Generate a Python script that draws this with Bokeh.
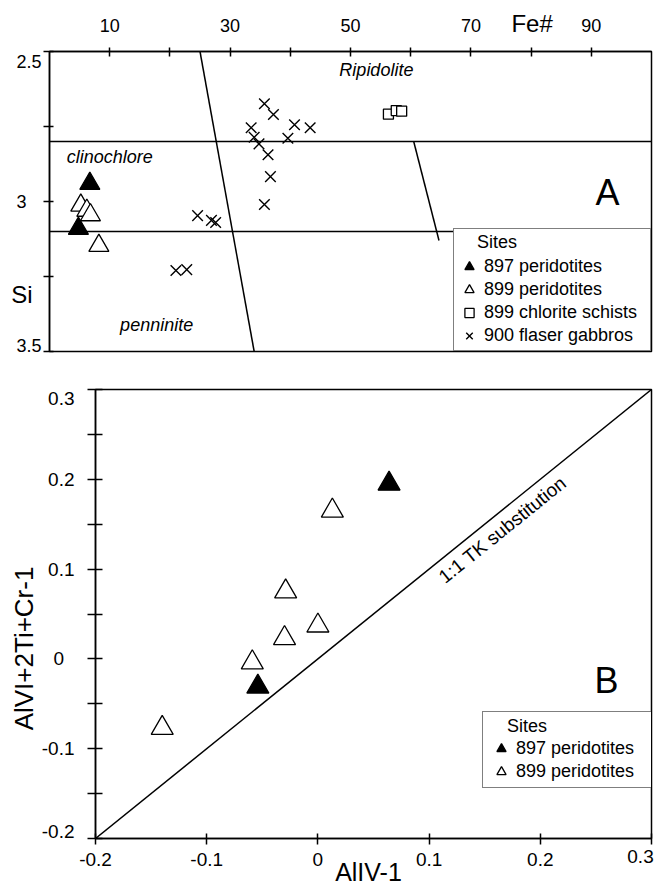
import math
from bokeh.plotting import figure
from bokeh.models import Range1d, FixedTicker, Label, Legend, LegendItem, LinearAxis
from bokeh.embed import file_html
from bokeh.resources import INLINE

FONT = "Liberation Sans"
NB = "\u00a0"

# ---------------- Panel A data (Fe# vs Si) ----------------
fe_897 = [6.7, 4.8]
si_897 = [2.94, 3.09]
fe_899 = [5.2, 6.2, 6.8, 8.2]
si_899 = [3.013, 3.03, 3.045, 3.147]
fe_schist = [56.3, 57.6, 58.5]
si_schist = [2.709, 2.697, 2.699]
fe_gabbro = [35.7, 37.2, 40.7, 43.3, 33.5, 34.0, 39.6, 34.8, 36.3, 36.7,
             35.7, 24.6, 26.9, 27.6, 21.0, 22.8]
si_gabbro = [2.674, 2.71, 2.744, 2.754, 2.754, 2.786, 2.789, 2.808, 2.844, 2.917,
             3.01, 3.047, 3.063, 3.07, 3.23, 3.227]

# field boundaries
h1_x = [0, 100]
h1_y = [2.8, 2.8]
h2_x = [0, 100]
h2_y = [3.1, 3.1]
s1_x = [25, 34]
s1_y = [2.5, 3.5]
s2_x = [60.5, 64.7]
s2_y = [2.8, 3.13]

fe_ticks = [10, 20, 30, 40, 50, 60, 70, 80, 90]
fe_tick_labels = ["10", "", "30", "", "50", "", "70", "", "90"]
si_ticks = [2.5, 2.75, 3.0, 3.25, 3.5]
si_label_pos = [2.5357, 3.0, 3.48]
si_tick_labels = ["2.5", "3" + NB * 3, "3.5"]

# ---------------- Panel B data (AlIV-1 vs AlVI+2Ti+Cr-1) ----------------
aliv_897 = [0.064, -0.054]
alvi_897 = [0.195, -0.031]
aliv_899 = [0.013, -0.029, 0.0, -0.030, -0.059, -0.140]
alvi_899 = [0.165, 0.075, 0.037, 0.023, -0.004, -0.077]
one_to_one = [-0.2, 0.3]

b_ticks = [-0.2, -0.1, 0.0, 0.1, 0.2, 0.3]
b_minor = [-0.15, -0.05, 0.05, 0.15, 0.25]
b_x_tick_labels = ["-0.2", "-0.1", "0", "0.1", "0.2", ""]
b_x_end_pos = [0.2901]
b_x_end_label = ["0.3"]
b_y_label_pos = [0.290, 0.2, 0.1, 0.0, -0.1, -0.192]
b_y_tick_labels = ["0.3", "0.2", "0.1", "0" + NB * 2, "-0.1", "-0.2"]


def style_axis(ax, tin, tout, standoff, fsize):
    ax.axis_line_color = "black"
    ax.axis_line_width = 1.5
    ax.major_tick_line_color = "black"
    ax.major_tick_line_width = 1.5
    ax.major_tick_in = tin
    ax.major_tick_out = tout
    ax.minor_tick_line_color = "black"
    ax.minor_tick_line_width = 1.5
    ax.minor_tick_in = tin
    ax.minor_tick_out = tout
    ax.major_label_standoff = standoff
    ax.major_label_text_font = FONT
    ax.major_label_text_font_size = fsize
    ax.major_label_text_color = "black"


def text_axis(p, side, ticks, labels, fsize, standoff, orientation=None):
    ax = LinearAxis(ticker=FixedTicker(ticks=ticks, minor_ticks=[]))
    ax.major_label_overrides = dict(zip(ticks, labels))
    ax.axis_line_color = None
    ax.major_tick_line_color = None
    ax.minor_tick_line_color = None
    ax.major_tick_in = 0
    ax.major_tick_out = 0
    ax.minor_tick_in = 0
    ax.minor_tick_out = 0
    ax.major_label_standoff = standoff
    ax.major_label_text_font = FONT
    ax.major_label_text_font_size = fsize
    ax.major_label_text_color = "black"
    if orientation is not None:
        ax.major_label_orientation = orientation
    p.add_layout(ax, side)
    return ax


def style_fig(p):
    p.grid.visible = False
    p.outline_line_color = "black"
    p.outline_line_width = 1.5
    p.background_fill_color = "white"
    p.border_fill_color = "white"


# ================= Panel A =================
pa = figure(width=654, height=366, x_range=Range1d(0, 100), y_range=Range1d(3.5, 2.5),
            x_axis_location="above", output_backend="svg", toolbar_location=None,
            min_border_left=49, min_border_right=3, min_border_top=51, min_border_bottom=15)
style_fig(pa)
pa.xaxis.ticker = FixedTicker(ticks=fe_ticks, minor_ticks=[])
pa.xaxis.major_label_overrides = dict(zip(fe_ticks, fe_tick_labels))
pa.yaxis.ticker = FixedTicker(ticks=si_ticks, minor_ticks=[])
pa.yaxis.major_label_overrides = {t: "" for t in si_ticks}
style_axis(pa.xaxis[0], 5, 4, 16, "18px")
style_axis(pa.yaxis[0], 4, 6, 0, "18px")
text_axis(pa, "left", si_label_pos, si_tick_labels, "18px", 2)
text_axis(pa, "left", [3.31], ["Si"], "24px", -19)
text_axis(pa, "above", [80.17], ["Fe#"], "24px", -21)

for bx, by in [(h1_x, h1_y), (h2_x, h2_y), (s1_x, s1_y), (s2_x, s2_y)]:
    pa.line(bx, by, line_color="black", line_width=1.5)

r_a899 = pa.scatter(fe_899, si_899, marker="triangle", size=20,
                    fill_color="white", line_color="black", line_width=1.3)
r_a897 = pa.scatter(fe_897, si_897, marker="triangle", size=20,
                    fill_color="black", line_color="black", line_width=1.3)
r_sch = pa.scatter(fe_schist, si_schist, marker="square", size=10,
                   fill_color="white", line_color="black", line_width=1.3)
r_gab = pa.scatter(fe_gabbro, si_gabbro, marker="x", size=15,
                   line_color="black", line_width=1.4)

for txt, x, y in [("Ripidolite", 54.3, 2.563), ("clinochlore", 10, 2.85), ("penninite", 17.8, 3.41)]:
    pa.add_layout(Label(x=x, y=y, text=txt, text_font=FONT, text_font_size="18px",
                        text_font_style="italic", text_color="black",
                        text_align="center", text_baseline="middle"))
pa.add_layout(Label(x=92.7, y=2.97, text="A", text_font=FONT, text_font_size="36px",
                    text_color="black", text_align="center", text_baseline="middle"))

leg_a = Legend(items=[LegendItem(label="897 peridotites", renderers=[r_a897]),
                      LegendItem(label="899 peridotites", renderers=[r_a899]),
                      LegendItem(label="899 chlorite schists", renderers=[r_sch]),
                      LegendItem(label="900 flaser gabbros", renderers=[r_gab])],
               location="bottom_right", margin=0, padding=3, spacing=0,
               glyph_width=24, glyph_height=23, label_height=23, label_width=163,
               label_standoff=3, label_text_font=FONT, label_text_font_size="18px",
               label_text_color="black",
               title=NB * 4 + "Sites", title_text_font=FONT, title_text_color="black",
               title_text_font_size="18px", title_text_font_style="normal", title_standoff=2,
               border_line_color="black", border_line_width=1.3,
               background_fill_color="white", background_fill_alpha=1.0)
pa.add_layout(leg_a)

# ================= Panel B =================
pb = figure(width=654, height=522, x_range=Range1d(-0.2, 0.3), y_range=Range1d(-0.2, 0.3),
            output_backend="svg", toolbar_location=None,
            min_border_left=95, min_border_right=3, min_border_top=23, min_border_bottom=50)
style_fig(pb)
pb.xaxis.ticker = FixedTicker(ticks=b_ticks, minor_ticks=[])
pb.xaxis.major_label_overrides = dict(zip(b_ticks, b_x_tick_labels))
pb.yaxis.ticker = FixedTicker(ticks=b_ticks, minor_ticks=b_minor)
pb.yaxis.major_label_overrides = {t: "" for t in b_ticks}
style_axis(pb.xaxis[0], 5, 6, 8, "19px")
style_axis(pb.yaxis[0], 7, 8, 0, "19px")
text_axis(pb, "left", b_y_label_pos, b_y_tick_labels, "19px", 13)
text_axis(pb, "left", [0.0116], ["AlVI+2Ti+Cr-1"], "26px", -1, "parallel")
text_axis(pb, "below", b_x_end_pos, b_x_end_label, "19px", -19)
text_axis(pb, "below", [0.0455], ["AlIV-1"], "25px", -11)

pb.line(one_to_one, one_to_one, line_color="black", line_width=1.5)
r_b899 = pb.scatter(aliv_899, alvi_899, marker="triangle", size=22,
                    fill_color="white", line_color="black", line_width=1.3)
r_b897 = pb.scatter(aliv_897, alvi_897, marker="triangle", size=22,
                    fill_color="black", line_color="black", line_width=1.3)

ang = math.atan2(449, 556)
pb.add_layout(Label(x=0.160, y=0.153, text="1:1 TK substitution", angle=ang,
                    text_font=FONT, text_font_size="19px", text_color="black",
                    text_align="center", text_baseline="top"))
pb.add_layout(Label(x=0.2595, y=-0.024, text="B", text_font=FONT, text_font_size="36px",
                    text_color="black", text_align="center", text_baseline="middle"))

leg_b = Legend(items=[LegendItem(label="897 peridotites", renderers=[r_b897]),
                      LegendItem(label="899 peridotites", renderers=[r_b899])],
               location=(387, 50), margin=0, padding=4, spacing=0,
               glyph_width=28, glyph_height=23, label_height=23, label_width=133,
               label_standoff=1, label_text_font=FONT, label_text_font_size="18px",
               label_text_color="black",
               title=NB * 4 + "Sites", title_text_font=FONT, title_text_color="black",
               title_text_font_size="18px", title_text_font_style="normal", title_standoff=0,
               border_line_color="black", border_line_width=1.3,
               background_fill_color="white", background_fill_alpha=1.0)
pb.add_layout(leg_b)

open("out.html", "w").write(file_html([pa, pb], INLINE))
